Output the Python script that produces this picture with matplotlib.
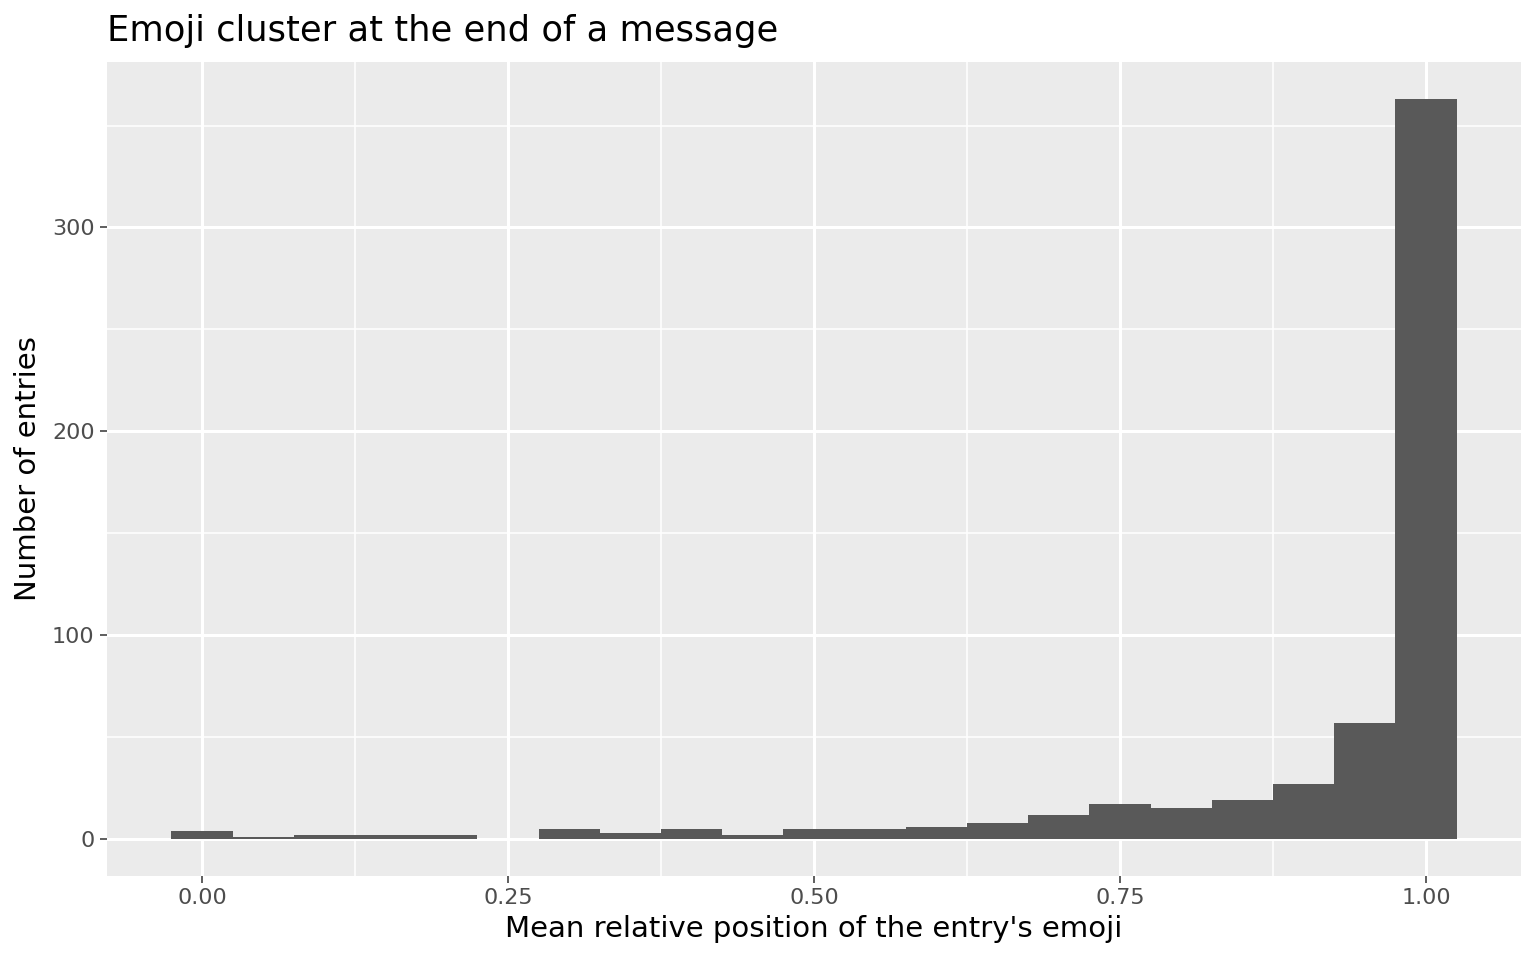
import numpy as np
import matplotlib
matplotlib.use("Agg")
import matplotlib.pyplot as plt
from matplotlib.ticker import MultipleLocator

# istogramma: centri dei bin (larghezza 0.05) e conteggi
centri = np.round(np.arange(0, 1.0001, 0.05), 2)
conteggi = [4, 1, 2, 2, 2, 0, 5, 3, 5, 2, 5, 5, 6, 8, 12, 17, 15, 19, 27, 57, 363]
larghezza = 0.05

titolo = "Emoji cluster at the end of a message"
etichetta_x = "Mean relative position of the entry's emoji"
etichetta_y = "Number of entries"

fig = plt.figure(figsize=(15.36, 9.6), dpi=100)
ax = fig.add_axes([0.0697, 0.0875, 0.9205, 0.8479])
ax.set_facecolor("#EBEBEB")

ax.bar(centri, conteggi, width=larghezza, color="#595959", linewidth=0, zorder=3)

# limiti con espansione del 5% come ggplot
xmin, xmax = -0.025, 1.025
ax.set_xlim(xmin - 0.05 * (xmax - xmin), xmax + 0.05 * (xmax - xmin))
ymax = max(conteggi)
ax.set_ylim(-0.05 * ymax, ymax * 1.05)

ax.xaxis.set_major_locator(MultipleLocator(0.25))
ax.xaxis.set_minor_locator(MultipleLocator(0.125))
ax.yaxis.set_major_locator(MultipleLocator(100))
ax.yaxis.set_minor_locator(MultipleLocator(50))
ax.set_xticks([0, 0.25, 0.5, 0.75, 1.0])
ax.set_xticklabels(["0.00", "0.25", "0.50", "0.75", "1.00"])

ax.grid(which="major", color="white", linewidth=2.2, zorder=0)
ax.grid(which="minor", color="white", linewidth=1.1, zorder=0)
ax.set_axisbelow(True)
for s in ax.spines.values():
    s.set_visible(False)

ax.tick_params(which="major", length=5, width=1.1, color="#333333",
               labelcolor="#4D4D4D", labelsize=16, pad=4)
ax.tick_params(which="minor", length=0)

ax.set_xlabel(etichetta_x, fontsize=21, color="black", labelpad=5)
ax.set_ylabel(etichetta_y, fontsize=21, color="black", labelpad=7)
ax.set_title(titolo, fontsize=25.4, loc="left", pad=15)

fig.savefig("out.png", dpi=100)
